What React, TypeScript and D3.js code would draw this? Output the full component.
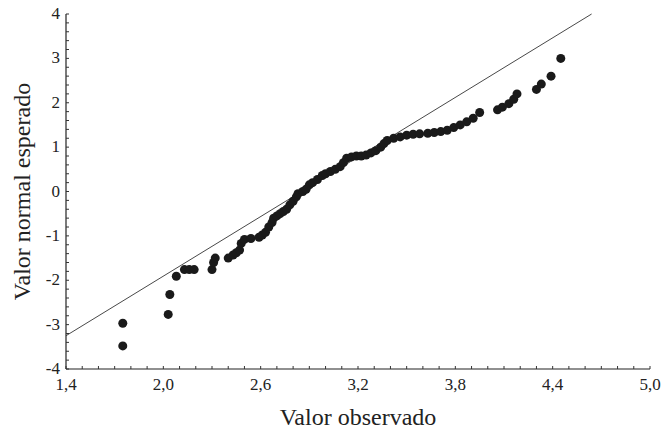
import * as d3 from 'd3';

const obsX = [1.75, 1.75, 2.03, 2.04, 2.08, 2.13, 2.16, 2.19, 2.3, 2.31, 2.32, 2.4, 2.43, 2.45, 2.47, 2.48, 2.5, 2.54,
  2.59, 2.61, 2.63, 2.65, 2.67, 2.68, 2.7, 2.72, 2.74, 2.76, 2.78, 2.8, 2.82, 2.83, 2.86, 2.88, 2.9, 2.92, 2.95, 2.98,
  3.0, 3.03, 3.06, 3.09, 3.11, 3.13, 3.16, 3.19, 3.22, 3.25, 3.28, 3.31, 3.34, 3.36, 3.38, 3.42, 3.46, 3.5, 3.54,
  3.58, 3.63, 3.67, 3.71, 3.75, 3.79, 3.83, 3.87, 3.91, 3.95, 4.06, 4.09, 4.13, 4.16, 4.18, 4.3, 4.33, 4.39, 4.45];
const expY = [-2.97, -3.48, -2.77, -2.32, -1.91, -1.76, -1.76, -1.76, -1.76, -1.6, -1.5, -1.5, -1.43, -1.38, -1.32, -1.17, -1.08, -1.06,
  -1.03, -0.98, -0.92, -0.8, -0.7, -0.6, -0.55, -0.5, -0.45, -0.4, -0.3, -0.22, -0.12, -0.05, 0.0, 0.05, 0.15, 0.2, 0.27, 0.36,
  0.4, 0.45, 0.5, 0.56, 0.65, 0.75, 0.78, 0.8, 0.8, 0.82, 0.87, 0.92, 1.0, 1.08, 1.15, 1.2, 1.23, 1.27, 1.29,
  1.3, 1.31, 1.33, 1.35, 1.38, 1.44, 1.5, 1.57, 1.65, 1.78, 1.84, 1.9, 1.98, 2.08, 2.2, 2.3, 2.42, 2.6, 3.0];
const xTicks = [1.4, 2.0, 2.6, 3.2, 3.8, 4.4, 5.0];
const yTicks = [-4, -3, -2, -1, 0, 1, 2, 3, 4];
const refLine = [[1.4, -3.25], [4.64, 4]];

const L = 66, R = 650, T = 14, B = 369;

export default function App() {
  const x = d3.scaleLinear().domain([1.4, 5.0]).range([L, R]);
  const y = d3.scaleLinear().domain([-4, 4]).range([B, T]);
  const xMinor = d3.range(14, 51).map(v => v / 10);
  const yMinor = d3.range(-20, 21).map(v => v / 5);
  const font = { fontFamily: "'Liberation Serif', 'Times New Roman', serif" };
  const line = d3.line<number[]>().x(d => x(d[0])).y(d => y(d[1]));
  return (
    <svg width={661} height={436} style={{ position: 'absolute', left: 0, top: 0, background: '#fff' }}>
      <line x1={L} x2={L} y1={T} y2={B} stroke="#222" strokeWidth={1.2} />
      <line x1={L} x2={R} y1={B} y2={B} stroke="#222" strokeWidth={1.2} />
      {xMinor.map((v, i) => (
        <line key={'xm' + i} x1={x(v)} x2={x(v)} y1={B} y2={B - 3} stroke="#333" />
      ))}
      {yMinor.map((v, i) => (
        <line key={'ym' + i} x1={L} x2={L + 3} y1={y(v)} y2={y(v)} stroke="#333" />
      ))}
      {xTicks.map(v => (
        <text key={'xt' + v} x={x(v)} y={B + 21} textAnchor="middle" style={font} fontSize={17} fill="#222">
          {v.toFixed(1).replace('.', ',')}
        </text>
      ))}
      {yTicks.map(v => (
        <text key={'yt' + v} x={L - 6} y={y(v) + 5} textAnchor="end" style={font} fontSize={17} fill="#222">
          {v}
        </text>
      ))}
      <path d={line(refLine) ?? ''} stroke="#333" strokeWidth={0.9} fill="none" />
      {obsX.map((v, i) => (
        <circle key={'p' + i} cx={x(v)} cy={y(expY[i])} r={4.5} fill="#1a1a1a" />
      ))}
      <text x={358} y={425} textAnchor="middle" style={font} fontSize={24} fill="#222">Valor observado</text>
      <text transform={`translate(30,${(T + B) / 2}) rotate(-90)`} textAnchor="middle" style={font} fontSize={24} fill="#222">
        Valor normal esperado
      </text>
    </svg>
  );
}
